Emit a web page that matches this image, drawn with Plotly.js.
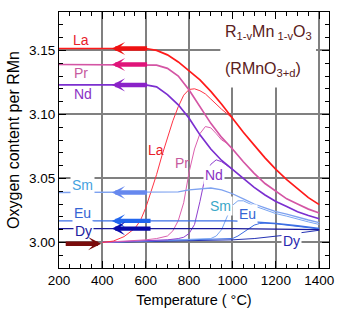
<!DOCTYPE html>
<html>
<head>
<meta charset="utf-8">
<script src="https://cdn.plot.ly/plotly-3.0.1.min.js"></script>
<style>html,body{margin:0;padding:0;background:#fff;}#chart{width:343px;height:321px;}</style>
</head>
<body>
<div id="chart"></div>
<script>
// ---------- data ----------
var coolT = [200, 600, 650, 700, 750, 800, 850, 900, 950, 1000, 1050, 1100, 1150, 1200, 1250, 1300, 1350, 1400];
var laCool = [3.1515, 3.1515, 3.150, 3.1465, 3.141, 3.134, 3.127, 3.118, 3.108, 3.097, 3.086, 3.076, 3.066, 3.057, 3.049, 3.042, 3.035, 3.0295];
var prCool = [3.139, 3.139, 3.1385, 3.136, 3.130, 3.119, 3.106, 3.093, 3.082, 3.073, 3.063, 3.054, 3.046, 3.040, 3.034, 3.030, 3.026, 3.023];
var ndCool = [3.123, 3.123, 3.1215, 3.1155, 3.1075, 3.097, 3.084, 3.073, 3.064, 3.057, 3.050, 3.043, 3.037, 3.032, 3.028, 3.024, 3.021, 3.0185];

var laHeatT = [400, 450, 500, 550, 575, 600, 625, 650, 675, 700, 725, 750, 775, 800, 825, 850, 875, 900, 950, 1000];
var laHeat  = [3.000, 3.001, 3.0045, 3.011, 3.017, 3.027, 3.040, 3.053, 3.068, 3.082, 3.095, 3.106, 3.115, 3.1195, 3.120, 3.1185, 3.116, 3.112, 3.104, 3.097];
var prHeatT = [400, 500, 600, 650, 700, 725, 750, 775, 800, 825, 850, 875, 900, 925, 950, 975];
var prHeat  = [3.000, 3.0008, 3.002, 3.003, 3.005, 3.009, 3.017, 3.031, 3.055, 3.073, 3.085, 3.0905, 3.0895, 3.085, 3.080, 3.0775];
var ndHeatT = [400, 600, 700, 750, 775, 800, 825, 850, 875, 900, 925, 950, 975, 1000];
var ndHeat  = [3.000, 3.001, 3.002, 3.003, 3.004, 3.007, 3.014, 3.032, 3.052, 3.061, 3.0645, 3.063, 3.060, 3.057];

var smCoolT = [200, 700, 750, 800, 850, 900, 950, 1000, 1050, 1100, 1150, 1200, 1250, 1300, 1350, 1400];
var smCool  = [3.039, 3.039, 3.0395, 3.041, 3.042, 3.0425, 3.041, 3.038, 3.034, 3.030, 3.027, 3.024, 3.022, 3.0195, 3.0175, 3.0155];
var smHeatT = [400, 600, 800, 900, 925, 950, 975, 1000, 1025, 1050, 1100, 1150, 1200, 1250, 1300, 1350, 1400];
var smHeat  = [3.000, 3.001, 3.002, 3.003, 3.005, 3.010, 3.020, 3.029, 3.0325, 3.0325, 3.0285, 3.0255, 3.0225, 3.0205, 3.018, 3.016, 3.014];

var euCoolT = [200, 1000, 1100, 1200, 1300, 1400];
var euCool  = [3.0168, 3.0168, 3.016, 3.0148, 3.013, 3.011];
var euHeatT = [400, 600, 800, 900, 1000, 1025, 1050, 1075, 1100, 1125, 1150, 1200, 1250, 1300, 1350, 1400];
var euHeat  = [3.000, 3.001, 3.0015, 3.002, 3.003, 3.005, 3.008, 3.011, 3.0135, 3.0148, 3.015, 3.0145, 3.0135, 3.0125, 3.0115, 3.0105];

var dyCoolT = [200, 1000, 1400];
var dyCool  = [3.0108, 3.0108, 3.0100];
var dyHeatT = [400, 600, 800, 1000, 1100, 1200, 1250, 1300, 1350, 1400];
var dyHeat  = [3.000, 3.0008, 3.0012, 3.002, 3.003, 3.0045, 3.0058, 3.0072, 3.0085, 3.0095];

// cooling arrows (pointing to lower T) and heating arrow
var arrowNames = ['La', 'Pr', 'Nd', 'Sm', 'Eu', 'Dy'];
var arrowY     = [3.1515, 3.139, 3.123, 3.039, 3.0168, 3.0108];
var arrowTail  = [613, 613, 613, 613, 629, 629];
var arrowTip   = [444, 444, 444, 444, 444, 444];
var heatArrow  = {tail: 224, tip: 395, y: 2.999};

// labels
var leftLabels  = ['La', 'Pr', 'Nd', 'Sm', 'Eu', 'Dy'];
var leftLabelT  = [301, 301, 309, 309, 309, 313];
var leftLabelY  = [3.1584, 3.1323, 3.1162, 3.0451, 3.023, 3.0086];
var inLabels    = ['La', 'Pr', 'Nd', 'Sm', 'Eu', 'Dy'];
var inLabelT    = [647, 765, 913, 944, 1070, 1274];
var inLabelY    = [3.0719, 3.062, 3.0529, 3.0281, 3.0224, 3.0008];

var xTicks = [200, 400, 600, 800, 1000, 1200, 1400];
var yTicks = [3.00, 3.05, 3.10, 3.15];

// ---------- styles ----------
var FONT = 'Liberation Sans, Arial, sans-serif';
var coolColor = {La: '#ff1a1a', Pr: '#d455a4', Nd: '#7b2fd0', Sm: '#7ea2f0', Eu: '#3b6fe6', Dy: '#1a1a9a'};
var heatColor = {La: '#ff3344', Pr: '#dc5fae', Nd: '#8f3fcf', Sm: '#7aa6f2', Eu: '#3a6ae0', Dy: '#2432b4'};
var arrowColor = {La: '#ee1111', Pr: '#e0147a', Nd: '#8a22c8', Sm: '#6688ee', Eu: '#2266ee', Dy: '#0a0aa8'};
var leftLabelColor = {La: '#e8202a', Pr: '#c65a9e', Nd: '#8a32c4', Sm: '#44a2e0', Eu: '#3464d4', Dy: '#2020a0'};
var inLabelColor = {La: '#e8202a', Pr: '#c65a9e', Nd: '#8a32c4', Sm: '#3aa8c8', Eu: '#3464d4', Dy: '#2828b0'};

function line(x, y, color, w) {
  return {x: x, y: y, type: 'scatter', mode: 'lines', line: {color: color, width: w}, hoverinfo: 'skip', showlegend: false};
}

var traces = [
  line(dyHeatT, dyHeat, heatColor.Dy, 1),
  line(euHeatT, euHeat, heatColor.Eu, 1),
  line(smHeatT, smHeat, heatColor.Sm, 1),
  line(ndHeatT, ndHeat, heatColor.Nd, 1),
  line(prHeatT, prHeat, heatColor.Pr, 1),
  line(laHeatT, laHeat, heatColor.La, 1),
  line(dyCoolT, dyCool, coolColor.Dy, 1.3),
  line(euCoolT, euCool, coolColor.Eu, 1.3),
  line(smCoolT, smCool, coolColor.Sm, 1.3),
  line(coolT, ndCool, coolColor.Nd, 1.7),
  line(coolT, prCool, coolColor.Pr, 1.7),
  line(coolT, laCool, coolColor.La, 1.7)
];

var annotations = [];
var bgLeft = {La: false, Pr: false, Nd: false, Sm: true, Eu: true, Dy: true};
var bgIn = {La: false, Pr: false, Nd: true, Sm: true, Eu: true, Dy: true};
leftLabels.forEach(function (n, i) {
  annotations.push({x: leftLabelT[i], y: leftLabelY[i], xref: 'x', yref: 'y', text: n, showarrow: false,
    font: {family: FONT, size: 14, color: leftLabelColor[n]}, bgcolor: bgLeft[n] ? '#ffffff' : 'rgba(0,0,0,0)', borderpad: 1});
});
inLabels.forEach(function (n, i) {
  annotations.push({x: inLabelT[i], y: inLabelY[i], xref: 'x', yref: 'y', text: n, showarrow: false,
    font: {family: FONT, size: 14, color: inLabelColor[n]}, bgcolor: bgIn[n] ? '#ffffff' : 'rgba(0,0,0,0)', borderpad: 1});
});
arrowNames.forEach(function (n, i) {
  annotations.push({x: arrowTip[i], y: arrowY[i], ax: arrowTail[i], ay: arrowY[i], xref: 'x', yref: 'y', axref: 'x', ayref: 'y',
    text: '', showarrow: true, arrowhead: 3, arrowsize: 0.5, arrowwidth: 4.4, arrowcolor: arrowColor[n], standoff: 0});
});
annotations.push({x: heatArrow.tip, y: heatArrow.y, ax: heatArrow.tail, ay: heatArrow.y, xref: 'x', yref: 'y', axref: 'x', ayref: 'y',
  text: '', showarrow: true, arrowhead: 3, arrowsize: 0.5, arrowwidth: 4.4, arrowcolor: '#7a0c0c', standoff: 0});
annotations.push({x: 1165, y: 3.1638, xref: 'x', yref: 'y', showarrow: false,
  text: 'R<sub>1-v</sub>Mn<sub> 1-v</sub>O<sub>3</sub>', font: {family: FONT, size: 16, color: '#5a2020'}});
annotations.push({x: 1142, y: 3.135, xref: 'x', yref: 'y', showarrow: false,
  text: '(RMnO<sub>3+d</sub>)', font: {family: FONT, size: 16, color: '#5a2020'}});

var axisCommon = {
  showline: true, linecolor: '#000', linewidth: 1, mirror: 'ticks',
  ticks: 'inside', ticklen: 7, tickwidth: 1, tickcolor: '#000',
  showgrid: true, gridcolor: '#808080', gridwidth: 2, zeroline: false,
  tickfont: {family: FONT, size: 13.5, color: '#000'}
};

var layout = {
  width: 343, height: 321,
  margin: {l: 59, r: 14, t: 12, b: 53},
  paper_bgcolor: '#fff', plot_bgcolor: '#fff',
  showlegend: false,
  xaxis: Object.assign({}, axisCommon, {
    range: [200, 1445], tickmode: 'array', tickvals: xTicks, ticktext: xTicks.map(String),
    minor: {dtick: 50, tick0: 200, ticks: 'inside', ticklen: 4, tickcolor: '#000', showgrid: false},
    title: {text: 'Temperature ( °C)', font: {family: FONT, size: 14.5, color: '#000'}, standoff: 7}
  }),
  yaxis: Object.assign({}, axisCommon, {
    range: [2.98, 3.18], tickmode: 'array', tickvals: yTicks, ticktext: yTicks.map(function (v) { return v.toFixed(2); }),
    minor: {dtick: 0.01, tick0: 3.0, ticks: 'inside', ticklen: 4, tickcolor: '#000', showgrid: false},
    title: {text: 'Oxygen content per RMn', font: {family: FONT, size: 16, color: '#000'}, standoff: 5}
  }),
  shapes: [
    {type: 'rect', xref: 'x', yref: 'y', x0: 944, x1: 1385, y0: 3.121, y1: 3.18, layer: 'between',
     fillcolor: '#ffffff', line: {width: 0}}
  ],
  annotations: annotations
};

Plotly.newPlot('chart', traces, layout, {staticPlot: true, displayModeBar: false});
</script>
</body>
</html>
